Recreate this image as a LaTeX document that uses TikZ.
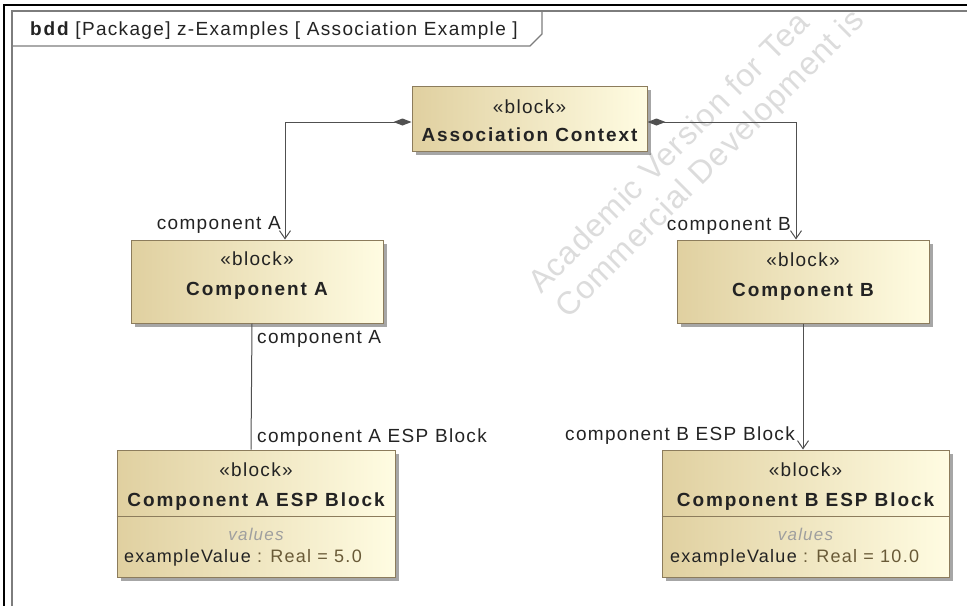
\documentclass[tikz,border=0pt]{standalone}
\usepackage{fontspec}
\setmainfont{Liberation Sans}[LetterSpace=7]
\newfontfamily\boldsp{Liberation Sans}[LetterSpace=10]
\newfontfamily\wmfont{Liberation Sans}[LetterSpace=3]
\usetikzlibrary{arrows.meta,shadows}
\definecolor{blkL}{RGB}{224,208,160}
\definecolor{blkR}{RGB}{255,252,226}
\definecolor{blkD}{RGB}{140,124,92}
\definecolor{lnC}{RGB}{80,80,80}
\definecolor{txC}{RGB}{35,35,35}
\definecolor{valC}{RGB}{105,90,55}
\definecolor{frC}{RGB}{125,125,125}
\definecolor{wmC}{RGB}{220,220,220}
\newcommand\myfs{\fontsize{19}{22}\selectfont}
\begin{document}
\begin{tikzpicture}[x=1pt,y=-1pt,
  blockbox/.style={draw=blkD, line width=1pt, left color=blkL, right color=blkR,
    inner sep=0pt, drop shadow={shadow xshift=4pt, shadow yshift=-4pt, fill=black, opacity=0.35}},
  txt/.style={inner sep=0pt, font=\myfs, text=txC},
  btxt/.style={inner sep=0pt, font=\myfs\boldsp\bfseries, text=txC},
  wmtxt/.style={inner sep=0pt, anchor=base west, rotate=45, text=wmC, font=\fontsize{32}{36}\selectfont\wmfont},
  conn/.style={draw=lnC, line width=1pt},
  comp/.style={conn, {Diamond[length=18pt,width=7pt,fill=lnC]}-{Straight Barb[length=8pt,width=11pt]}},
  assoc/.style={conn, -{Straight Barb[length=8pt,width=11pt]}}
]
\useasboundingbox[fill=white] (0,0) rectangle (967,606);

% watermark (visible part only)
\begin{scope}
\clip (12,11) rectangle (967,606);
\node[wmtxt] (wm1) at (541,295) {Academic Version for Tea};
\node[wmtxt] (wm2) at (568,320) {Commercial Development is};
\end{scope}

% outer borders
\draw[black, line width=2.5pt] (3,5) -- (967,5);
\draw[black, line width=2.5pt] (4,4) -- (4,606);
% diagram frame
\draw[frC, line width=1.5pt] (12,606) -- (12,11) -- (967,11);
\draw[frC, line width=1.2pt] (12,46) -- (530,46) -- (542,34) -- (542,11);
\node[txt, anchor=base west] (title) at (30,35) {{\boldsp\bfseries bdd} [Package] z-Examples [ Association Example ]};

% blocks
\node[blockbox, minimum width=235pt, minimum height=65pt] (ctx) at (529.5,118.5) {};
\node[blockbox, minimum width=252pt, minimum height=83pt] (compA) at (257,281.5) {};
\node[blockbox, minimum width=252pt, minimum height=83pt] (compB) at (803,281.5) {};
\node[blockbox, minimum width=278pt, minimum height=127pt] (espA) at (256,513.5) {};
\node[blockbox, minimum width=287pt, minimum height=127pt] (espB) at (805.5,513.5) {};
\draw[blkD, line width=1pt] (espA.west |- 0,516) -- (espA.east |- 0,516);
\draw[blkD, line width=1pt] (espB.west |- 0,516) -- (espB.east |- 0,516);

% block texts
\node[txt, anchor=base] (ctxS) at (529.5,113) {«block»};
\node[btxt, anchor=base] (ctxN) at (529.5,141) {Association Context};
\node[txt, anchor=base] (compAS) at (257,265) {«block»};
\node[btxt, anchor=base] (compAN) at (257,295) {Component A};
\node[txt, anchor=base] (compBS) at (803,266) {«block»};
\node[btxt, anchor=base] (compBN) at (803,296) {Component B};
\node[txt, anchor=base] (espAS) at (256,476) {«block»};
\node[btxt, anchor=base] (espAN) at (256,506) {Component A ESP Block};
\node[inner sep=0pt, anchor=base, font=\fontsize{17}{20}\selectfont\itshape, text=gray!75] (espAV) at (256,540) {values};
\node[inner sep=0pt, anchor=base west, font=\fontsize{18}{21}\selectfont, text=txC] (espAX) at (124,562) {exampleValue~\textcolor{valC}{: Real = 5.0}};
\node[txt, anchor=base] (espBS) at (805.5,476) {«block»};
\node[btxt, anchor=base] (espBN) at (805.5,506) {Component B ESP Block};
\node[inner sep=0pt, anchor=base, font=\fontsize{17}{20}\selectfont\itshape, text=gray!75] (espBV) at (805.5,540) {values};
\node[inner sep=0pt, anchor=base west, font=\fontsize{18}{21}\selectfont, text=txC] (espBX) at (670,562) {exampleValue~\textcolor{valC}{: Real = 10.0}};

% connectors
\draw[comp] ([yshift=-3.5pt]ctx.west) -| ([xshift=28pt]compA.north);
\draw[comp] ([yshift=-3.5pt]ctx.east) -| ([xshift=-7pt]compB.north);
\draw[conn] ([xshift=-5pt]compA.south) -- ([xshift=-5pt]espA.north);
\draw[assoc] (compB.south) -- ([xshift=-2.5pt]espB.north);

% end labels
\node[txt, anchor=base east] (lA1) at (281,229) {component A};
\node[txt, anchor=base west] (lA2) at (257,343) {component A};
\node[txt, anchor=base west] (lA3) at (257,442) {component A ESP Block};
\node[txt, anchor=base east] (lB1) at (791,230) {component B};
\node[txt, anchor=base east] (lB2) at (795,440) {component B ESP Block};
\end{tikzpicture}
\end{document}
